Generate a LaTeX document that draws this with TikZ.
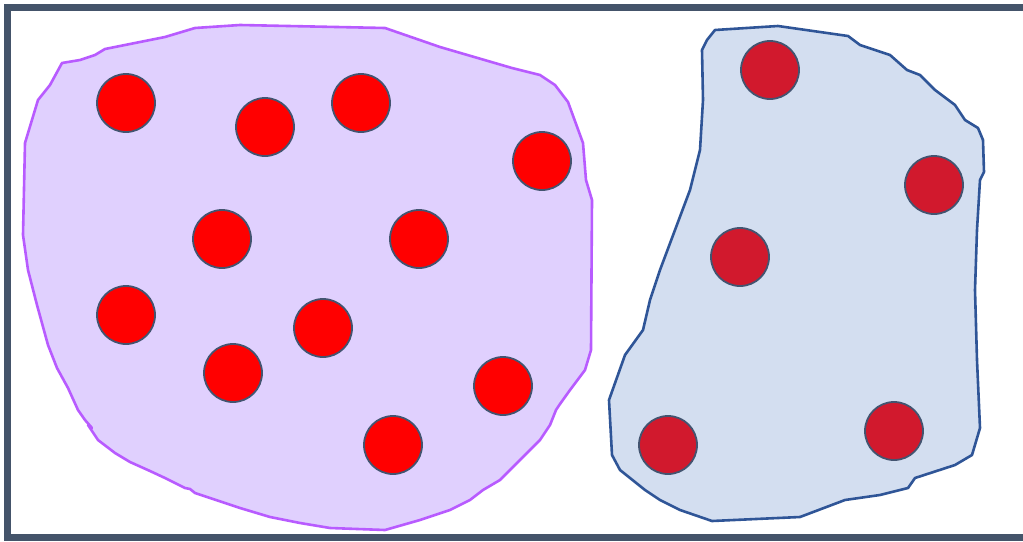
\documentclass[tikz,border=0pt]{standalone}
\definecolor{frame}{HTML}{44546A}
\definecolor{lavfill}{HTML}{E0D0FE}
\definecolor{lavline}{HTML}{B85BFF}
\definecolor{bluefill}{HTML}{D3DEF0}
\definecolor{blueline}{HTML}{2F5597}
\definecolor{dotred}{HTML}{FF0000}
\definecolor{dotcrimson}{HTML}{D1192D}
\definecolor{dotline}{HTML}{435470}
\begin{document}
\begin{tikzpicture}[x=1pt,y=-1pt,
  dotA/.style={circle,fill=dotred,draw=dotline,line width=1.8pt,minimum size=58pt,inner sep=0pt},
  dotB/.style={circle,fill=dotcrimson,draw=dotline,line width=1.8pt,minimum size=58pt,inner sep=0pt},
  blobA/.style={fill=lavfill,draw=lavline,line width=2.6pt,line join=round},
  blobB/.style={fill=bluefill,draw=blueline,line width=2.6pt,line join=round}]
\useasboundingbox (0,0) rectangle (1023,541);
\clip (0,0) rectangle (1023,541);
\draw[blobA] (62,63) -- (80,60) -- (95,55) -- (105,49) -- (140,42) -- (165,37) -- (195,28) -- (240,25) -- (385,28) -- (440,47) -- (512,68) -- (540,75) -- (555,85) -- (568,102) -- (583,143) -- (586,180) -- (592,200) -- (591,350) -- (585,370) -- (570,390) -- (560,404) -- (556,410) -- (550,425) -- (540,440) -- (525,455) -- (512,468) -- (500,480) -- (483,490) -- (470,500) -- (450,510) -- (420,520) -- (385,530) -- (330,528) -- (300,523) -- (270,517) -- (240,508) -- (195,493) -- (190,489) -- (185,488) -- (165,478) -- (150,471) -- (130,462) -- (115,453) -- (98,440) -- (88,425) -- (92,428) -- (85,420) -- (78,410) -- (68,388) -- (57,368) -- (48,345) -- (37,305) -- (28,270) -- (23,235) -- (25,143) -- (38,100) -- (50,85) -- cycle;
\draw[blobB] (715,30) -- (778,26) -- (848,36) -- (860,45) -- (890,55) -- (907,70) -- (920,75) -- (935,90) -- (955,105) -- (965,120) -- (978,128) -- (983,140) -- (984,172) -- (980,180) -- (977,230) -- (975,290) -- (977,360) -- (980,428) -- (972,455) -- (955,465) -- (915,478) -- (908,488) -- (880,495) -- (845,500) -- (800,517) -- (712,521) -- (680,510) -- (660,500) -- (645,490) -- (620,470) -- (612,455) -- (609,400) -- (625,355) -- (643,330) -- (650,300) -- (660,270) -- (675,230) -- (690,190) -- (700,150) -- (703,100) -- (702,50) -- (707,40) -- cycle;
\node[dotA] (a1) at (126,103) {};
\node[dotA] (a2) at (265,127) {};
\node[dotA] (a3) at (361,103) {};
\node[dotA] (a4) at (542,161) {};
\node[dotA] (a5) at (222,239) {};
\node[dotA] (a6) at (419,239) {};
\node[dotA] (a7) at (126,315) {};
\node[dotA] (a8) at (323,328) {};
\node[dotA] (a9) at (233,373) {};
\node[dotA] (a10) at (503,386) {};
\node[dotA] (a11) at (393,445) {};
\node[dotB] (b1) at (770,70) {};
\node[dotB] (b2) at (934,185) {};
\node[dotB] (b3) at (740,257) {};
\node[dotB] (b4) at (668,445) {};
\node[dotB] (b5) at (894,431) {};
\draw[frame,line width=7pt] (7,7) rectangle (1040,537);
\end{tikzpicture}
\end{document}
